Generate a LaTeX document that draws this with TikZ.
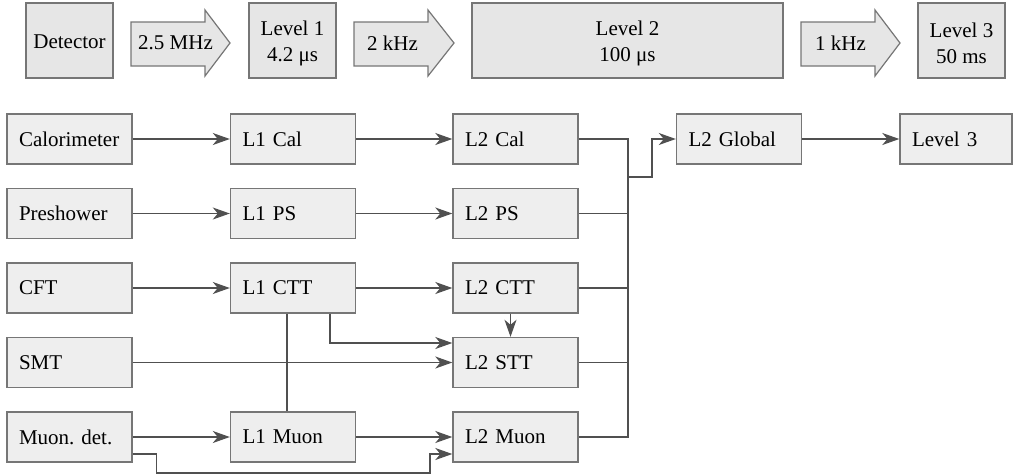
\documentclass[tikz,border=0pt]{standalone}
\usepackage{fontspec}
\setmainfont{Liberation Serif}
\usetikzlibrary{arrows.meta}

\definecolor{boxfill}{HTML}{EEEEEE}
\definecolor{topfill}{HTML}{E6E6E6}
\definecolor{boxline}{HTML}{767676}
\definecolor{wire}{HTML}{505050}

\tikzset{
  lbox/.style={draw=boxline, line width=1.4pt, fill=boxfill,
    minimum height=50pt, text width=101pt, inner xsep=12pt, inner ysep=0pt,
    align=left, font=\fontsize{21}{25}\selectfont},
  tbox/.style={draw=boxline, line width=1.4pt, fill=topfill,
    minimum height=75pt, inner sep=0pt},
  ttext/.style={inner sep=0pt, align=center, font=\fontsize{21}{26}\selectfont},
  rate/.style={draw=boxline, line width=1.2pt, fill=topfill},
  ratetext/.style={anchor=west, inner sep=0pt, font=\fontsize{21}{25}\selectfont},
  wireline/.style={draw=wire, line width=1.2pt},
  feed/.style={wireline, -{Stealth[length=17pt, width=12pt, inset=5pt]}},
}

\begin{document}
\frenchspacing
\begin{tikzpicture}[x=1pt, y=-1pt]
\useasboundingbox (0,0) rectangle (1014,475);

% --- trigger levels with their rates ---
\node[tbox, minimum width=87pt]  (det) at (69.5,40.5)  {};
\node[tbox, minimum width=87pt]  (lv1) at (292.5,40.5) {};
\node[tbox, minimum width=311pt] (lv2) at (627.5,40.5) {};
\node[tbox, minimum width=87pt]  (lv3) at (961.5,40.5) {};
\node[ttext] (dett) at ([yshift=-1.5pt]det.center) {Detector};
\node[ttext] (lv1t) at ([yshift=-2.5pt]lv1.center) {Level 1\\4.2 μs};
\node[ttext] (lv2t) at ([yshift=-2.5pt]lv2.center) {Level 2\\100 μs};
\node[ttext] (lv3t) at ([yshift=-2.5pt]lv3.center) {Level 3\\50 ms};

\draw[rate] (131,22) -- (205,22) -- (205,10) -- (230,43) -- (205,76) -- (205,66) -- (131,66) -- cycle;
\draw[rate] (354,22) -- (428,22) -- (428,10) -- (454,43) -- (428,76) -- (428,66) -- (354,66) -- cycle;
\draw[rate] (801,22) -- (875,22) -- (875,10) -- (900,43) -- (875,76) -- (875,66) -- (801,66) -- cycle;
\node[ratetext] (r1) at (138,43) {2.5 MHz};
\node[ratetext] (r2) at (367,43) {2 kHz};
\node[ratetext] (r3) at (815,43) {1 kHz};

% --- detector subsystems ---
\node[lbox] (cal)  at (69.5,139)   {Calorimeter};
\node[lbox] (ps)   at (69.5,213.5) {Preshower};
\node[lbox] (cft)  at (69.5,288)   {CFT};
\node[lbox] (smt)  at (69.5,362.5) {SMT};
\node[lbox] (mdet) at (69.5,437)   {Muon. det.};

% --- level 1 ---
\node[lbox] (l1cal) at (293,139)   {L1 Cal};
\node[lbox] (l1ps)  at (293,213.5) {L1 PS};
\node[lbox] (l1ctt) at (293,288)   {L1 CTT};
\node[lbox] (l1mu)  at (293,437)   {L1 Muon};

% --- level 2 preprocessors ---
\node[lbox] (l2cal) at (515.5,139)   {L2 Cal};
\node[lbox] (l2ps)  at (515.5,213.5) {L2 PS};
\node[lbox] (l2ctt) at (515.5,288)   {L2 CTT};
\node[lbox] (l2stt) at (515.5,362.5) {L2 STT};
\node[lbox] (l2mu)  at (515.5,437)   {L2 Muon};

\node[lbox] (l2glob) at (739,139) {L2 Global};
\node[lbox, text width=88pt] (l3) at (956,139) {Level 3};

% --- data paths ---
\draw[feed] (cal) -- (l1cal);
\draw[feed] (ps) -- (l1ps);
\draw[feed] (cft) -- (l1ctt);
\draw[feed] (mdet) -- (l1mu);
\draw[feed] (l1cal) -- (l2cal);
\draw[feed] (l1ps) -- (l2ps);
\draw[feed] (l1ctt) -- (l2ctt);
\draw[feed] (l1mu) -- (l2mu);
\draw[feed] (smt) -- (l2stt);

\draw[wireline] ([xshift=-6pt]l1ctt.south) -- ([xshift=-6pt]l1mu.north);
\draw[feed] ([xshift=37pt]l1ctt.south) |- ([yshift=19.5pt]l2stt.west);
\draw[feed] ([xshift=-5pt]l2ctt.south) -- ([xshift=-5pt]l2stt.north);

\coordinate (mdip) at (430,473);
\draw[feed] ([yshift=-17pt]mdet.east) -- ++(24,0) |- (mdip) |- ([yshift=-17pt]l2mu.west);

% --- collection bus into L2 Global ---
\coordinate (bustop) at (628,139);
\coordinate (busbot) at (628,437);
\coordinate (busjoin) at (628,177);
\draw[wireline] (l2cal.east) -- (bustop) -- (busbot) -- (l2mu.east);
\draw[wireline] (l2ps.east) -- (l2ps.east -| bustop);
\draw[wireline] (l2ctt.east) -- (l2ctt.east -| bustop);
\draw[wireline] (l2stt.east) -- (l2stt.east -| bustop);
\draw[feed] (busjoin) -- ++(24,0) |- (l2glob.west);
\draw[feed] (l2glob) -- (l3);
\end{tikzpicture}
\end{document}
